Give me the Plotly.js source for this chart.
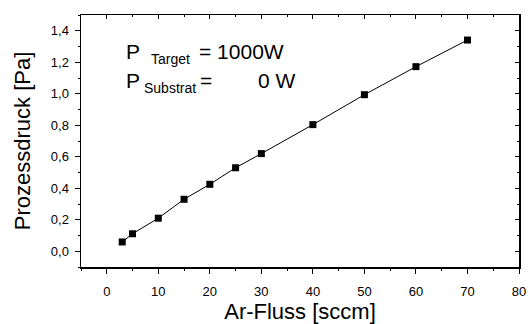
<!DOCTYPE html>
<html><head><meta charset="utf-8">
<script src="https://cdn.plot.ly/plotly-3.0.1.min.js"></script>
<style>html,body{margin:0;padding:0;background:#fff}#c{width:528px;height:324px}</style>
</head><body><div id="c"></div>
<script>
const flow = [3, 5, 10, 15, 20, 25, 30, 40, 50, 60, 70];
const pressure = [0.059, 0.111, 0.21, 0.33, 0.425, 0.53, 0.62, 0.804, 0.994, 1.172, 1.341];
const xTitle = 'Ar-Fluss [sccm]';
const yTitle = 'Prozessdruck [Pa]';

const font = 'Liberation Sans, Arial, sans-serif';
const xr = [-5, 80], yr = [-0.1, 1.5];

const traces = [
  {x: flow, y: pressure, mode: 'lines+markers', type: 'scatter',
   line: {color: '#000', width: 1}, marker: {symbol: 'square', size: 7, color: '#000'},
   hoverinfo: 'skip'},
  {x: flow, y: pressure, xaxis: 'x2', yaxis: 'y2', mode: 'none', type: 'scatter',
   hoverinfo: 'skip', showlegend: false}
];

function ann(text, x, y, size) {
  return {text: text, xref: 'paper', yref: 'paper', x: x, y: y, xanchor: 'left', yanchor: 'middle',
          showarrow: false, font: {family: font, size: size, color: '#000'}};
}
const L = 81, T = 15, W = 438, H = 252;
const px = v => (v - L) / W, py = v => (T + H - v) / H;

const layout = {
  width: 528, height: 324, showlegend: false,
  margin: {l: 81, r: 9, t: 15, b: 57},
  paper_bgcolor: '#fff', plot_bgcolor: '#fff',
  separators: ', ',
  font: {family: font, color: '#000'},
  xaxis: {range: xr, dtick: 10, tick0: 0, ticks: 'outside', ticklen: 5, tickwidth: 1, tickcolor: '#000',
          minor: {dtick: 5, ticks: 'outside', ticklen: 2, tickcolor: '#000'},
          ticklabelstandoff: 7,
          showline: true, linecolor: '#000', linewidth: 1.5, mirror: true, showgrid: false, zeroline: false,
          tickfont: {size: 13, family: font}, title: {text: xTitle, font: {size: 22, family: font}, standoff: 8}},
  yaxis: {range: yr, dtick: 0.2, tick0: 0, tickformat: '.1f', ticks: 'outside', ticklen: 5, tickwidth: 1, tickcolor: '#000',
          minor: {dtick: 0.1, ticks: 'outside', ticklen: 2, tickcolor: '#000'},
          ticklabelstandoff: 3,
          showline: true, linecolor: '#000', linewidth: 1.5, mirror: true, showgrid: false, zeroline: false,
          tickfont: {size: 13, family: font}, title: {text: yTitle, font: {size: 22, family: font}, standoff: 14}},
  xaxis2: {overlaying: 'x', side: 'top', range: xr, dtick: 10, tick0: 0, ticks: 'inside', ticklen: 4, tickcolor: '#000',
           minor: {dtick: 5, ticks: 'inside', ticklen: 2, tickcolor: '#000'},
           showticklabels: false, showline: false, showgrid: false, zeroline: false},
  yaxis2: {overlaying: 'y', side: 'right', range: yr, dtick: 0.2, tick0: 0, ticks: 'inside', ticklen: 4, tickcolor: '#000',
           minor: {dtick: 0.1, ticks: 'inside', ticklen: 2, tickcolor: '#000'},
           showticklabels: false, showline: false, showgrid: false, zeroline: false},
  annotations: [
    ann('P', px(124), py(51), 21),
    ann('Target', px(149), py(59), 14),
    ann('= 1000W', px(197), py(51), 21),
    ann('P', px(124), py(80), 21),
    ann('Substrat', px(142), py(87.5), 14),
    ann('=', px(198), py(80), 21),
    ann('0 W', px(256), py(80), 21)
  ]
};
Plotly.newPlot('c', traces, layout, {staticPlot: true, displayModeBar: false});
</script></body></html>
